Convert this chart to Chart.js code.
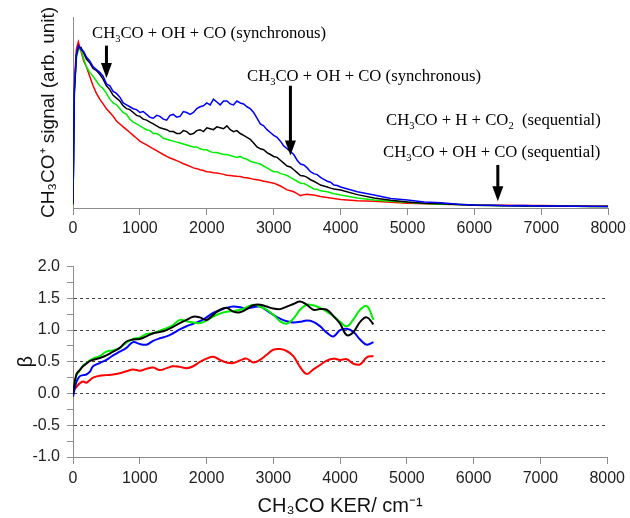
<!DOCTYPE html>
<html lang="en">
<head>
  <meta charset="UTF-8">
  <title>CH3CO KER and beta</title>
  <style>
    body {
      margin: 0;
      background-color: #fff;
    }
    #wrap {
      position: relative;
      width: 630px;
      height: 518px;
    }
    canvas {
      position: absolute;
      left: 0;
    }
    .note {
      position: absolute;
      font-family: "Liberation Serif", "Times New Roman", serif;
      font-size: 16.7px;
      line-height: 20px;
      color: #000;
      white-space: nowrap;
    }
    .note sub {
      font-size: 10.5px;
      vertical-align: -4px;
      line-height: 0;
    }
  </style>
</head>
<body>
  <div id="wrap">
    <canvas id="signal" width="630" height="250" style="top:0"></canvas>
    <canvas id="beta" width="630" height="268" style="top:250px"></canvas>
    <div class="note" style="left:92px;top:23px">CH<sub>3</sub>CO + OH + CO (synchronous)</div>
    <div class="note" style="left:247px;top:66px">CH<sub>3</sub>CO + OH + CO (synchronous)</div>
    <div class="note" style="left:386px;top:110px">CH<sub>3</sub>CO + H + CO<sub>2</sub>&nbsp; (sequential)</div>
    <div class="note" style="left:383px;top:142px">CH<sub>3</sub>CO + OH + CO (sequential)</div>
  </div>

  <script src="https://cdn.jsdelivr.net/npm/chart.js"></script>
  <script>
    // top panel: CH3CO+ signal vs KER (cm-1)
    const topKer = [0, 20, 50, 80, 120, 160, 200, 250,
      300, 350, 400, 450, 500, 550, 600, 650, 700, 750,
      800, 850, 900, 950, 1000, 1050, 1100, 1150, 1200, 1250,
      1300, 1350, 1400, 1450, 1500, 1550, 1600, 1650, 1700, 1750,
      1800, 1850, 1900, 1950, 2000, 2050, 2100, 2150, 2200, 2250,
      2300, 2350, 2400, 2450, 2500, 2550, 2600, 2650, 2700, 2750,
      2800, 2850, 2900, 2950, 3000, 3050, 3100, 3150, 3200, 3250,
      3300, 3350, 3400, 3450, 3500, 3550, 3600, 3650, 3700, 3750,
      3800, 3850, 3900, 3950, 4000,
      4250, 4500, 4750, 5000, 5250, 5500, 5750, 6000, 6250, 6500, 6750, 7000, 7250, 7500, 7750, 8000];
    const signalBlue = [0.02, 0.62, 0.80, 0.85, 0.83, 0.82, 0.79, 0.77,
      0.74, 0.725, 0.71, 0.69, 0.65, 0.64, 0.61, 0.60, 0.58, 0.55,
      0.54, 0.53, 0.52, 0.515, 0.50, 0.505, 0.49, 0.475, 0.47, 0.485,
      0.48, 0.465, 0.46, 0.485, 0.49, 0.475, 0.48, 0.505, 0.50, 0.49,
      0.50, 0.52, 0.53, 0.535, 0.55, 0.54, 0.57, 0.555, 0.54, 0.56,
      0.56, 0.545, 0.54, 0.56, 0.55, 0.545, 0.53, 0.52, 0.50, 0.47,
      0.44, 0.43, 0.41, 0.395, 0.38, 0.37, 0.35, 0.325, 0.31, 0.295,
      0.28, 0.25, 0.23, 0.225, 0.21, 0.19, 0.18, 0.175, 0.16, 0.15,
      0.14, 0.135, 0.12, 0.118, 0.11,
      0.085, 0.068, 0.05, 0.042, 0.032, 0.027, 0.02, 0.016, 0.014, 0.012, 0.013, 0.01, 0.01, 0.009, 0.009, 0.008];
    const signalBlack = [0.02, 0.60, 0.80, 0.84, 0.84, 0.81, 0.78, 0.76,
      0.73, 0.72, 0.70, 0.675, 0.64, 0.62, 0.59, 0.575, 0.56, 0.535,
      0.52, 0.515, 0.50, 0.485, 0.48, 0.465, 0.46, 0.45, 0.44, 0.43,
      0.42, 0.415, 0.41, 0.40, 0.40, 0.39, 0.39, 0.405, 0.40, 0.385,
      0.39, 0.405, 0.41, 0.40, 0.42, 0.415, 0.41, 0.425, 0.42, 0.415,
      0.43, 0.41, 0.40, 0.405, 0.39, 0.38, 0.37, 0.36, 0.34, 0.32,
      0.31, 0.305, 0.29, 0.28, 0.27, 0.265, 0.25, 0.235, 0.22, 0.215,
      0.20, 0.185, 0.17, 0.168, 0.16, 0.148, 0.14, 0.13, 0.12, 0.115,
      0.11, 0.104, 0.10, 0.097, 0.094,
      0.07, 0.052, 0.04, 0.031, 0.025, 0.022, 0.018, 0.015, 0.013, 0.012, 0.01, 0.01, 0.009, 0.009, 0.008, 0.008];
    const signalGreen = [0.02, 0.60, 0.78, 0.83, 0.83, 0.78, 0.74, 0.71,
      0.69, 0.665, 0.64, 0.625, 0.60, 0.57, 0.55, 0.54, 0.52, 0.50,
      0.49, 0.465, 0.45, 0.44, 0.43, 0.42, 0.41, 0.405, 0.39, 0.39,
      0.38, 0.365, 0.36, 0.355, 0.35, 0.345, 0.34, 0.335, 0.33, 0.325,
      0.32, 0.32, 0.31, 0.305, 0.305, 0.295, 0.29, 0.29, 0.285, 0.28,
      0.28, 0.275, 0.27, 0.265, 0.27, 0.26, 0.255, 0.245, 0.24, 0.235,
      0.23, 0.22, 0.21, 0.20, 0.19, 0.19, 0.18, 0.176, 0.17, 0.16,
      0.15, 0.14, 0.13, 0.128, 0.12, 0.11, 0.10, 0.098, 0.09, 0.088,
      0.085, 0.08, 0.075, 0.072, 0.068,
      0.052, 0.042, 0.035, 0.03, 0.024, 0.02, 0.018, 0.015, 0.013, 0.012, 0.011, 0.01, 0.009, 0.009, 0.008, 0.008];
    const signalRed = [0.03, 0.65, 0.83, 0.87, 0.82, 0.77, 0.74, 0.69,
      0.64, 0.60, 0.57, 0.545, 0.52, 0.50, 0.48, 0.455, 0.44, 0.425,
      0.41, 0.395, 0.38, 0.365, 0.35, 0.34, 0.33, 0.32, 0.31, 0.30,
      0.29, 0.28, 0.27, 0.262, 0.255, 0.248, 0.24, 0.232, 0.225, 0.218,
      0.21, 0.206, 0.20, 0.196, 0.19, 0.188, 0.185, 0.183, 0.18, 0.176,
      0.172, 0.17, 0.168, 0.166, 0.165, 0.16, 0.158, 0.155, 0.15, 0.148,
      0.145, 0.14, 0.137, 0.133, 0.13, 0.123, 0.115, 0.105, 0.095, 0.09,
      0.085, 0.075, 0.065, 0.07, 0.072, 0.07, 0.068, 0.064, 0.06, 0.058,
      0.055, 0.052, 0.05, 0.047, 0.045,
      0.038, 0.035, 0.03, 0.025, 0.022, 0.02, 0.018, 0.016, 0.015, 0.014, 0.013, 0.013, 0.012, 0.012, 0.011, 0.011];

    // arrows (KER, start and tip in signal units)
    const arrowKer = [500, 3250, 6350];
    const arrowFrom = [0.85, 0.64, 0.225];
    const arrowTo = [0.68, 0.275, 0.035];

    // bottom panel: anisotropy parameter beta
    const betaKer = [0, 50, 100, 150, 200, 250, 300, 400, 500, 600, 700, 800, 900,
      1000, 1100, 1200, 1300, 1400, 1500, 1600, 1700, 1800, 1900,
      2000, 2100, 2200, 2300, 2400, 2500, 2600, 2700, 2800, 2900,
      3000, 3100, 3200, 3300, 3400, 3500, 3600, 3700, 3800, 3900,
      4000, 4100, 4200, 4300, 4400, 4500];
    const betaBlack = [0.0, 0.30, 0.37, 0.43, 0.47, 0.51, 0.53, 0.56, 0.60, 0.66, 0.72, 0.82, 0.85,
      0.86, 0.90, 0.95, 0.97, 1.00, 1.05, 1.11, 1.16, 1.21, 1.20,
      1.16, 1.24, 1.32, 1.35, 1.29, 1.28, 1.33, 1.39, 1.40, 1.37,
      1.34, 1.33, 1.37, 1.41, 1.45, 1.40, 1.32, 1.33, 1.32, 1.22,
      1.10, 0.92, 0.97, 1.13, 1.20, 1.09];
    const betaGreen = [0.08, 0.28, 0.36, 0.44, 0.48, 0.52, 0.55, 0.59, 0.66, 0.68, 0.72, 0.80, 0.86,
      0.88, 0.94, 0.95, 0.99, 1.03, 1.08, 1.16, 1.14, 1.12, 1.11,
      1.15, 1.21, 1.26, 1.29, 1.30, 1.32, 1.36, 1.40, 1.37, 1.32,
      1.24, 1.14, 1.10, 1.18, 1.32, 1.40, 1.39, 1.35, 1.29, 1.22,
      1.13, 1.06, 1.17, 1.32, 1.38, 1.16];
    const betaBlue = [-0.05, 0.18, 0.27, 0.29, 0.30, 0.34, 0.43, 0.48, 0.53, 0.60, 0.66, 0.72, 0.81,
      0.78, 0.77, 0.83, 0.87, 0.90, 0.95, 1.01, 1.06, 1.10, 1.14,
      1.20, 1.27, 1.31, 1.35, 1.37, 1.36, 1.34, 1.36, 1.37, 1.31,
      1.24, 1.18, 1.14, 1.12, 1.13, 1.15, 1.13, 1.06, 0.96, 0.90,
      1.00, 1.02, 0.97, 0.85, 0.77, 0.81];
    const betaRed = [0.04, 0.10, 0.16, 0.19, 0.17, 0.21, 0.25, 0.28, 0.29, 0.30, 0.32, 0.35, 0.38,
      0.36, 0.39, 0.41, 0.37, 0.40, 0.43, 0.42, 0.40, 0.43, 0.50,
      0.55, 0.58, 0.53, 0.49, 0.48, 0.52, 0.55, 0.49, 0.53, 0.61,
      0.69, 0.70, 0.67, 0.59, 0.42, 0.31, 0.38, 0.45, 0.52, 0.55,
      0.53, 0.54, 0.47, 0.46, 0.57, 0.59];
    const betaDashed = [-0.5, 0, 0.5, 1, 1.5];

    const axisGray = '#8c8c8c';
    const tickFont = { family: 'Liberation Sans, Arial, sans-serif', size: 16 };
    const titleFont = { family: 'Liberation Sans, Arial, sans-serif', size: 19 };

    function pts(xs, ys) {
      return ys.map((v, i) => ({ x: xs[i], y: v }));
    }

    function line(data, color, width, tension) {
      return {
        data: data,
        borderColor: color,
        borderWidth: width,
        pointRadius: 0,
        fill: false,
        tension: tension
      };
    }

    const arrowPlugin = {
      id: 'arrows',
      afterDatasetsDraw(chart) {
        const ctx = chart.ctx;
        const x = chart.scales.x;
        const y = chart.scales.y;
        ctx.save();
        ctx.fillStyle = '#000';
        ctx.strokeStyle = '#000';
        ctx.lineWidth = 3;
        for (let i = 0; i < arrowKer.length; i++) {
          const px = x.getPixelForValue(arrowKer[i]);
          const y1 = y.getPixelForValue(arrowFrom[i]);
          const y2 = y.getPixelForValue(arrowTo[i]);
          ctx.beginPath();
          ctx.moveTo(px, y1);
          ctx.lineTo(px, y2 - 12);
          ctx.stroke();
          ctx.beginPath();
          ctx.moveTo(px - 5.5, y2 - 15);
          ctx.lineTo(px + 5.5, y2 - 15);
          ctx.lineTo(px, y2);
          ctx.closePath();
          ctx.fill();
        }
        ctx.restore();
      }
    };

    const plainTick = (v) => String(v);

    new Chart(document.getElementById('signal'), {
      type: 'line',
      data: {
        datasets: [
          line(pts(topKer, signalBlue), '#0000ff', 1.5, 0),
          line(pts(topKer, signalBlack), '#000000', 1.5, 0),
          line(pts(topKer, signalGreen), '#00ee00', 1.5, 0),
          line(pts(topKer, signalRed), '#ff0000', 1.5, 0)
        ]
      },
      options: {
        responsive: false,
        animation: false,
        layout: { padding: { top: 17, right: 20, left: 0, bottom: 0 } },
        plugins: { legend: { display: false }, tooltip: { enabled: false } },
        scales: {
          x: {
            type: 'linear',
            min: 0,
            max: 8000,
            ticks: { stepSize: 1000, color: '#222', font: tickFont, padding: 4, maxRotation: 0, callback: plainTick },
            grid: { drawOnChartArea: false, color: axisGray, tickLength: 7 },
            border: { color: axisGray },
            afterFit(scale) { scale.height = 42; }
          },
          y: {
            min: 0,
            max: 1,
            ticks: { display: false },
            grid: { display: false },
            border: { color: axisGray },
            title: {
              display: true,
              text: 'CH₃CO⁺ signal (arb. unit)',
              color: '#111',
              font: titleFont,
              padding: { top: 37, bottom: 0 }
            },
            afterFit(scale) { scale.width = 73; }
          }
        }
      },
      plugins: [arrowPlugin]
    });

    new Chart(document.getElementById('beta'), {
      type: 'line',
      data: {
        datasets: [
          line(pts(betaKer, betaBlack), '#000000', 2, 0.4),
          line(pts(betaKer, betaGreen), '#00ee00', 2, 0.4),
          line(pts(betaKer, betaBlue), '#0000ff', 2, 0.4),
          line(pts(betaKer, betaRed), '#ff0000', 2, 0.4)
        ]
      },
      options: {
        responsive: false,
        animation: false,
        layout: { padding: { top: 15, right: 20, left: 0, bottom: 0 } },
        plugins: { legend: { display: false }, tooltip: { enabled: false } },
        scales: {
          x: {
            type: 'linear',
            min: 0,
            max: 8000,
            ticks: { stepSize: 1000, color: '#222', font: tickFont, padding: 5, maxRotation: 0, callback: plainTick },
            grid: { drawOnChartArea: false, color: axisGray, tickLength: 7 },
            border: { color: axisGray },
            title: {
              display: true,
              text: 'CH₃CO KER/ cm⁻¹',
              color: '#111',
              font: { family: 'Liberation Sans, Arial, sans-serif', size: 20 },
              padding: { top: 0, bottom: 0 }
            },
            afterFit(scale) { scale.height = 61; }
          },
          y: {
            min: -1,
            max: 2,
            ticks: {
              stepSize: 0.25,
              autoSkip: false,
              color: '#222',
              font: tickFont,
              padding: 7,
              callback: (v) => Math.abs(v * 2 - Math.round(v * 2)) < 1e-6 ? v.toFixed(1) : ''
            },
            grid: {
              color: (ctx) => betaDashed.some(d => Math.abs(d - ctx.tick.value) < 1e-6) ? '#444' : 'rgba(0,0,0,0)',
              tickColor: axisGray,
              tickLength: 6
            },
            border: { color: axisGray, dash: [3, 3] },
            title: {
              display: true,
              text: 'β',
              color: '#111',
              font: { family: 'Liberation Sans, Arial, sans-serif', size: 20 },
              padding: { top: 14, bottom: 0 }
            },
            afterFit(scale) { scale.width = 73; }
          }
        }
      }
    });
  </script>
</body>
</html>
